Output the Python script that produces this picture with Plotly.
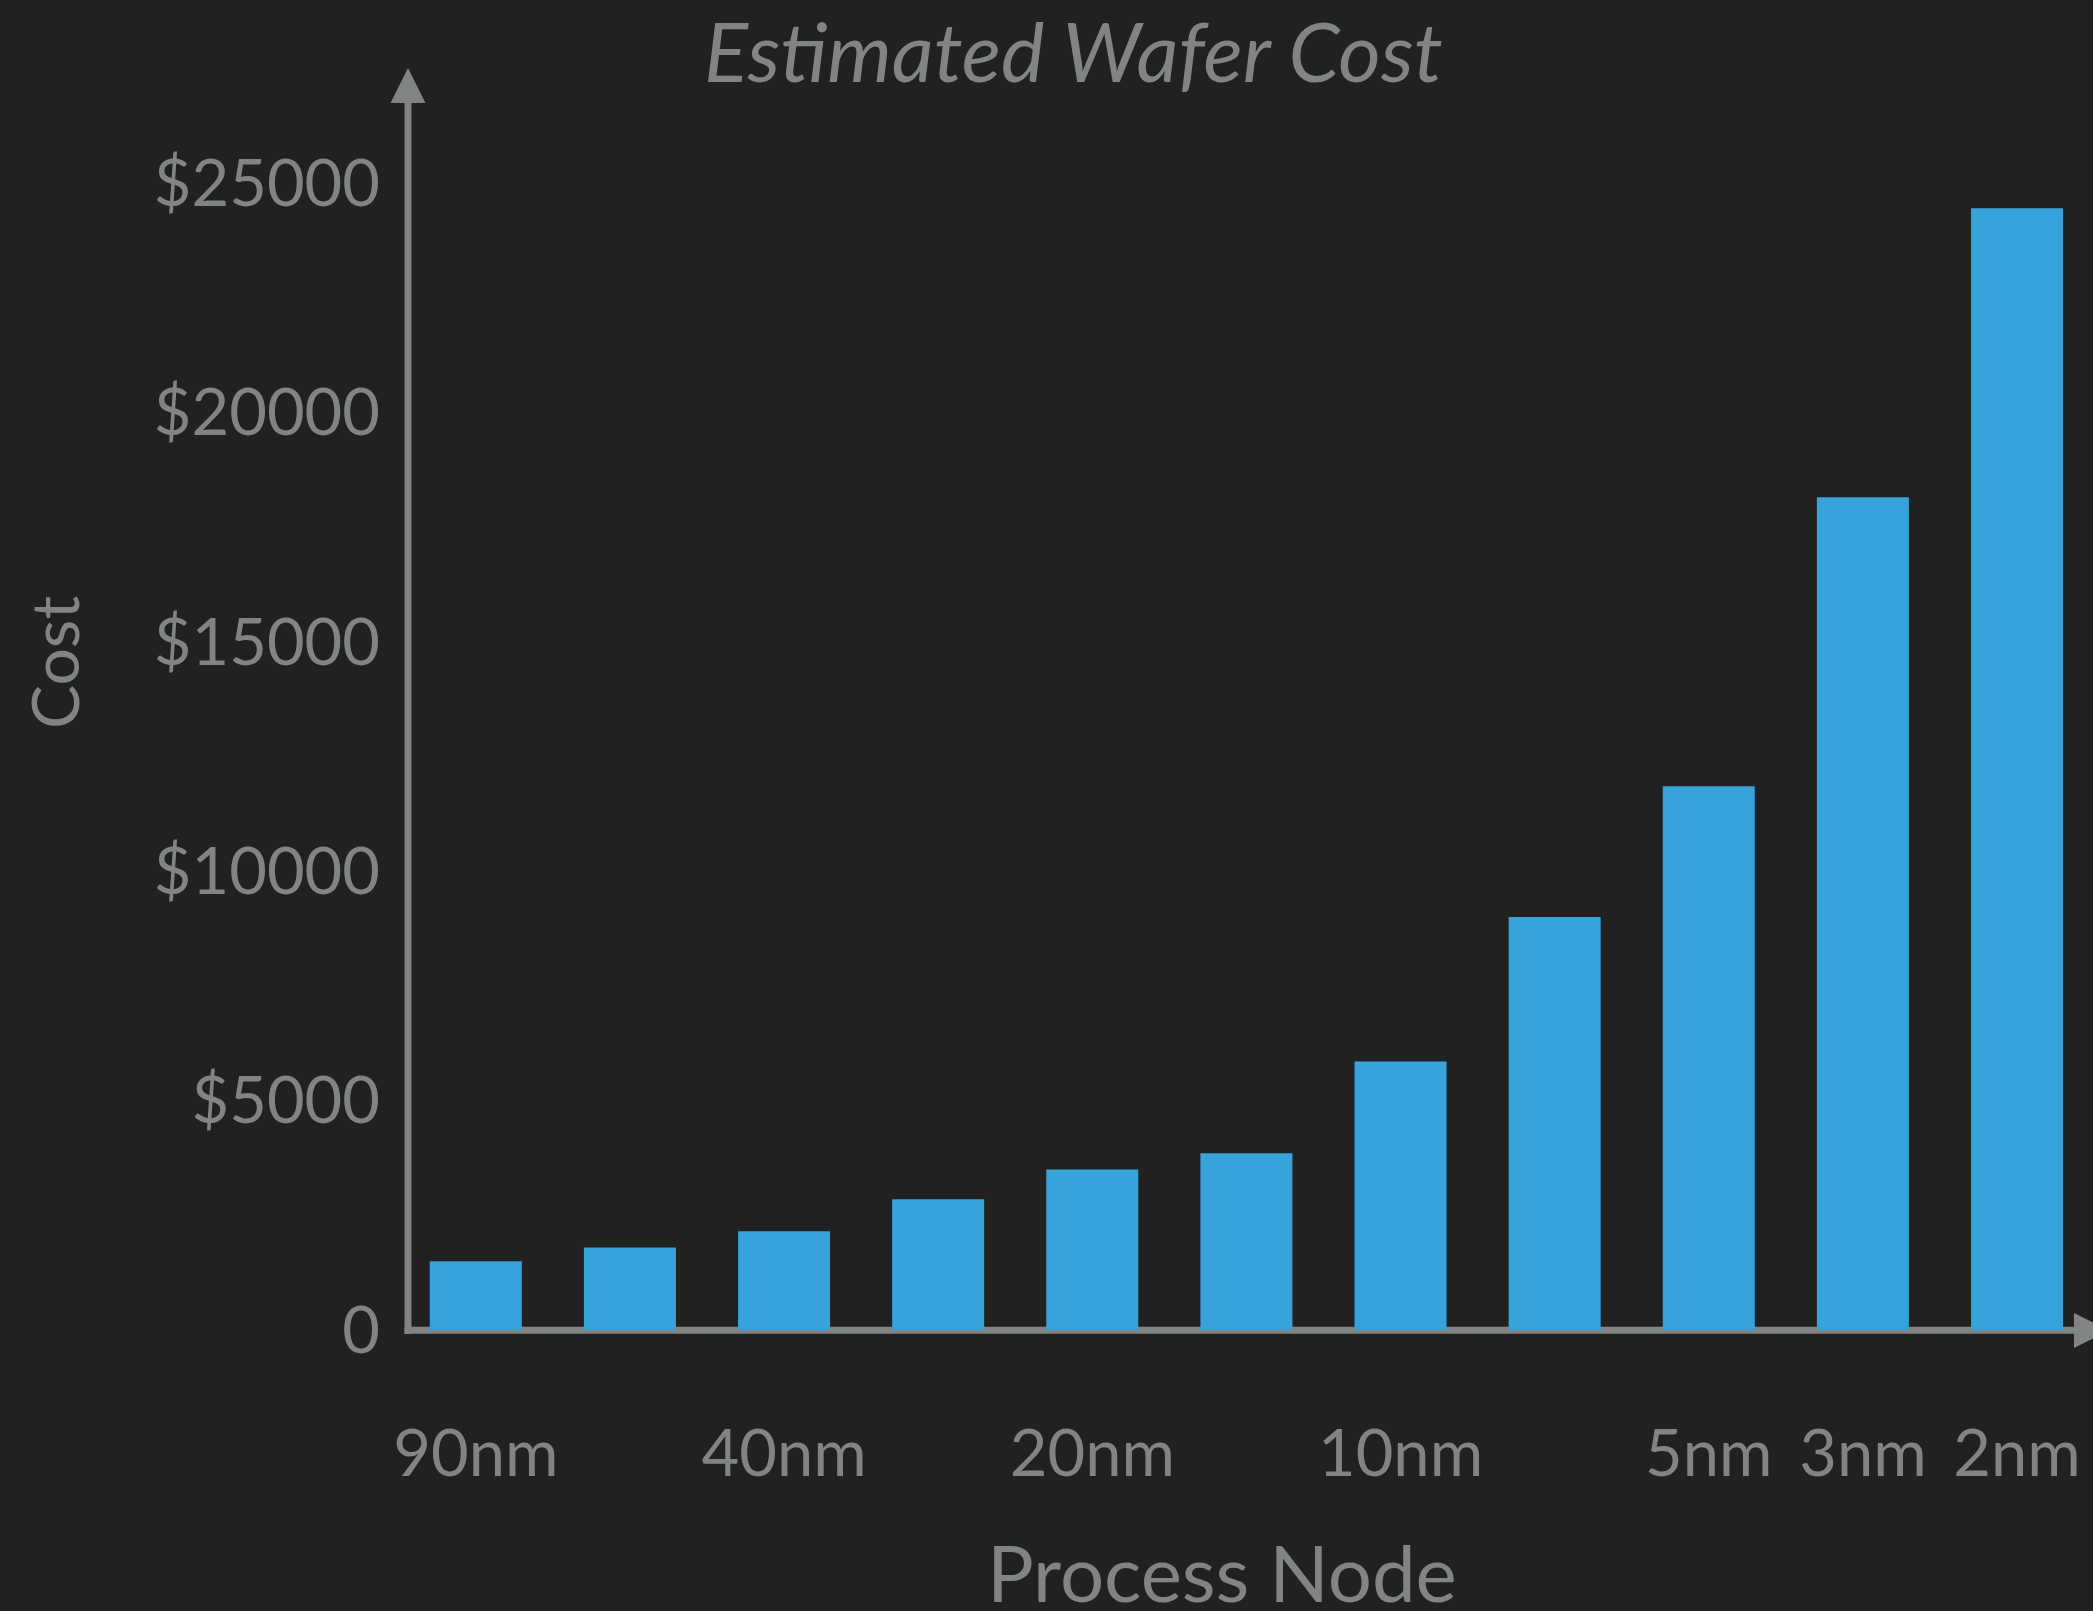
import plotly.graph_objects as go

# Estimated wafer cost per process node (USD)
wafer_cost = [1500, 1800, 2150, 2850, 3500, 3850, 5850, 9000, 11850, 18150, 24450]
bar_slots = list(range(len(wafer_cost)))

# labelled nodes along the x axis and the bar slot each one sits under
node_labels = ["90nm", "40nm", "20nm", "10nm", "5nm", "3nm", "2nm"]
node_slots = [0, 2, 4, 6, 8, 9, 10]

cost_ticks = [0, 5000, 10000, 15000, 20000, 25000]
cost_tick_text = ["0", "$5000", "$10000", "$15000", "$20000", "$25000"]

W, H = 2093, 1611
L, R, T, B = 407, 0, 69, 281
PW, PH = W - L - R, H - T - B

BG = "#212121"
INK = "#808483"
BAR = "#36a4db"
FONT = "Lato, 'Noto Sans', sans-serif"


def px_x(px):
    return (px - L) / PW


def px_y(py):
    return (H - B - py) / PH


fig = go.Figure(
    go.Bar(
        x=bar_slots,
        y=wafer_cost,
        marker=dict(color=BAR, line=dict(width=0)),
        hoverinfo="skip",
    )
)

# axis lines with arrowheads, drawn beneath the bars
ax_line = dict(color=INK, width=7)
shapes = [
    dict(type="line", xref="paper", yref="paper",
         x0=px_x(408), x1=px_x(408), y0=px_y(1334), y1=px_y(100),
         line=ax_line, layer="below"),
    dict(type="path", xref="paper", yref="paper",
         path=f"M {px_x(390.5)} {px_y(103)} L {px_x(408)} {px_y(68)} "
              f"L {px_x(425.5)} {px_y(103)} Z",
         fillcolor=INK, line=dict(width=0), layer="below"),
    dict(type="line", xref="paper", yref="paper",
         x0=px_x(404.5), x1=px_x(2078), y0=px_y(1330.3), y1=px_y(1330.3),
         line=ax_line, layer="below"),
    dict(type="path", xref="paper", yref="paper",
         path=f"M {px_x(2074)} {px_y(1313)} L {px_x(2109)} {px_y(1330.5)} "
              f"L {px_x(2074)} {px_y(1348)} Z",
         fillcolor=INK, line=dict(width=0), layer="below"),
]

annotations = [
    dict(text="<i>Estimated Wafer Cost</i>", xref="paper", yref="paper",
         x=px_x(1073), y=px_y(50), xanchor="center", yanchor="middle",
         showarrow=False, font=dict(family=FONT, size=82, color=INK)),
    dict(text="Process Node", xref="paper", yref="paper",
         x=px_x(1222), y=px_y(1572), xanchor="center", yanchor="middle",
         showarrow=False, font=dict(family=FONT, size=78, color=INK)),
    dict(text="Cost", xref="paper", yref="paper", textangle=-90,
         x=px_x(53), y=px_y(663), xanchor="center", yanchor="middle",
         showarrow=False, font=dict(family=FONT, size=66, color=INK)),
]

fig.update_layout(
    width=W, height=H,
    margin=dict(l=L, r=R, t=T, b=B, pad=0),
    paper_bgcolor=BG, plot_bgcolor=BG,
    showlegend=False,
    bargap=0.403,
    font=dict(family=FONT, color=INK),
    shapes=shapes,
    annotations=annotations,
    xaxis=dict(
        range=[-0.4464, 10.493],
        tickmode="array", tickvals=node_slots, ticktext=node_labels,
        ticks="", showline=False, showgrid=False, zeroline=False,
        ticklabelstandoff=80,
        tickfont=dict(family=FONT, size=65, color=INK),
        fixedrange=True,
    ),
    yaxis=dict(
        range=[0, 27485],
        tickmode="array", tickvals=cost_ticks, ticktext=cost_tick_text,
        ticks="", showline=False, showgrid=False, zeroline=False,
        ticklabelstandoff=26,
        tickfont=dict(family=FONT, size=65, color=INK),
        fixedrange=True,
    ),
)

fig.write_html("out.html", config={"displayModeBar": False})
